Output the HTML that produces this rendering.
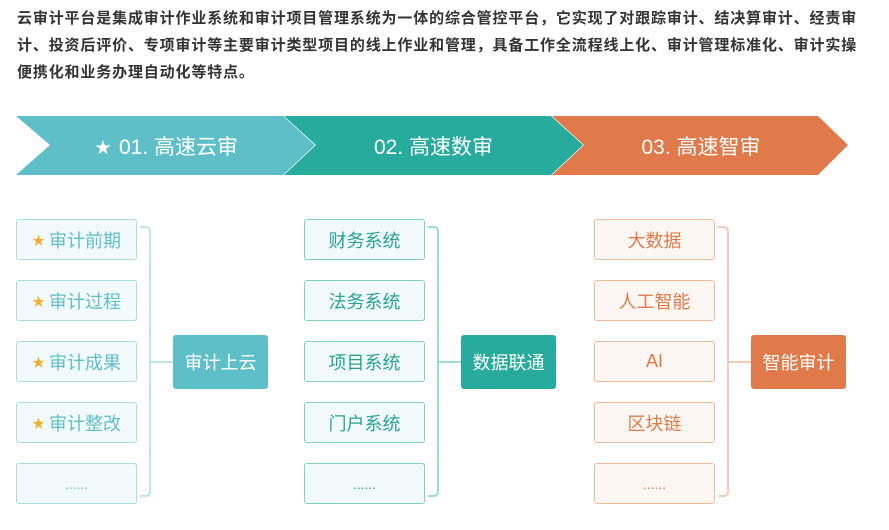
<!DOCTYPE html>
<html><head><meta charset="utf-8"><style>
body{margin:0;width:889px;height:530px;background:#fff;position:relative;overflow:hidden;font-family:"Liberation Sans","Noto Sans CJK SC",sans-serif}
.p{position:absolute;left:17px;font-size:15px;font-weight:bold;color:#333;letter-spacing:0.85px;white-space:nowrap;line-height:20px}
.b{position:absolute;width:121px;height:41px;box-sizing:border-box;border-radius:3px;font-size:18px;display:flex;align-items:center;justify-content:center;white-space:nowrap}
.c1{background:#f3fafb;border:1.5px solid #a8dde2;color:#5fbfc8}
.c2{background:#f3fafb;border:1.5px solid #7fcfc4;color:#26a395}
.c3{background:#fdf7f3;border:1.5px solid #f2b89a;color:#e07a4a}
.s{color:#f0b030;font-size:13px;margin-right:4px}
.m{position:absolute;width:95px;height:54px;border-radius:3px;color:#fff;font-size:18px;display:flex;align-items:center;justify-content:center}
.h{position:absolute;top:116px;height:59px;color:#fff;font-size:21px;display:flex;align-items:center;justify-content:center;white-space:nowrap}
</style></head><body>
<div class="p" style="top:9px">云审计平台是集成审计作业系统和审计项目管理系统为一体的综合管控平台，它实现了对跟踪审计、结决算审计、经责审</div>
<div class="p" style="top:36px">计、投资后评价、专项审计等主要审计类型项目的线上作业和管理，具备工作全流程线上化、审计管理标准化、审计实操</div>
<div class="p" style="top:63px">便携化和业务办理自动化等特点。</div>
<svg style="position:absolute;left:0;top:0" width="889" height="530">
<polygon points="16,116 283,116 315,145 283,175 16,175 50,145" fill="#5fbfc8"/>
<polygon points="284,116 551,116 583,145 551,175 284,175 316,145" fill="#26ab9c"/>
<polygon points="552,116 818,116 848,145 818,175 552,175 584,145" fill="#e07a4a"/>
<g fill="none" stroke-width="1.5">
<path d="M140,227 h6 a4,4 0 0 1 4,4 v261 a4,4 0 0 1 -4,4 h-6 M150,362 h23" stroke="#a8dde2"/>
<path d="M428,227 h6 a4,4 0 0 1 4,4 v261 a4,4 0 0 1 -4,4 h-6 M438,362 h23" stroke="#7fcfc4"/>
<path d="M718,227 h6 a4,4 0 0 1 4,4 v261 a4,4 0 0 1 -4,4 h-6 M728,362 h23" stroke="#f2b89a"/>
</g></svg>
<div class="h" style="left:50px;width:233px"><span style="font-size:16px;margin-right:8px">★</span>01. 高速云审</div>
<div class="h" style="left:316px;width:235px">02. 高速数审</div>
<div class="h" style="left:584px;width:234px">03. 高速智审</div>

<div class="b c1" style="left:16px;top:219px"><span class="s">★</span>审计前期</div>
<div class="b c1" style="left:16px;top:280px"><span class="s">★</span>审计过程</div>
<div class="b c1" style="left:16px;top:341px"><span class="s">★</span>审计成果</div>
<div class="b c1" style="left:16px;top:402px"><span class="s">★</span>审计整改</div>
<div class="b c1" style="left:16px;top:463px;font-size:14px">......</div>
<div class="m" style="left:173px;top:335px;background:#5fbfc8">审计上云</div>

<div class="b c2" style="left:304px;top:219px">财务系统</div>
<div class="b c2" style="left:304px;top:280px">法务系统</div>
<div class="b c2" style="left:304px;top:341px">项目系统</div>
<div class="b c2" style="left:304px;top:402px">门户系统</div>
<div class="b c2" style="left:304px;top:463px;font-size:14px">......</div>
<div class="m" style="left:461px;top:335px;background:#26ab9c">数据联通</div>

<div class="b c3" style="left:594px;top:219px">大数据</div>
<div class="b c3" style="left:594px;top:280px">人工智能</div>
<div class="b c3" style="left:594px;top:341px">AI</div>
<div class="b c3" style="left:594px;top:402px">区块链</div>
<div class="b c3" style="left:594px;top:463px;font-size:14px">......</div>
<div class="m" style="left:751px;top:335px;background:#e07a4a">智能审计</div>
</body></html>
